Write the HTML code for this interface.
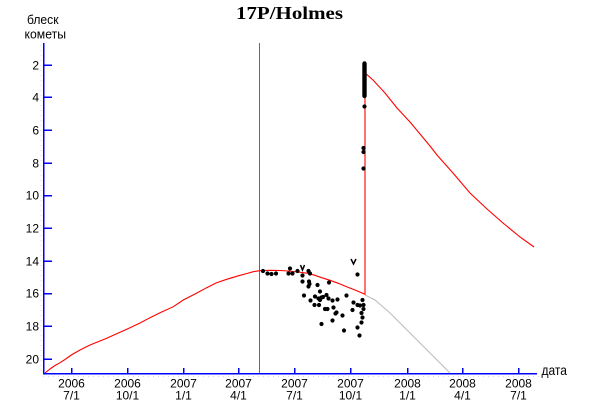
<!DOCTYPE html>
<html><head><meta charset="utf-8"><style>
html,body{margin:0;padding:0;background:#fff;}
svg{display:block;}
</style></head><body>
<svg width="600" height="410" viewBox="0 0 600 410" xmlns="http://www.w3.org/2000/svg">
<rect width="600" height="410" fill="#fff"/>
<text x="236" y="19" font-family="Liberation Serif, serif" font-weight="bold" font-size="18" textLength="107" lengthAdjust="spacingAndGlyphs">17P/Holmes</text>
<g font-family="Liberation Sans, sans-serif">
<text x="27" y="24" font-size="13" textLength="31.5" lengthAdjust="spacingAndGlyphs">блеск</text>
<text x="24.5" y="38.5" font-size="13" textLength="41.5" lengthAdjust="spacingAndGlyphs">кометы</text>
<text x="541.5" y="375" font-size="14" textLength="25.5" lengthAdjust="spacingAndGlyphs">дата</text>
</g>
<path d="M41 45V375M43 376.5H540" stroke="#d8d8e8" stroke-dasharray="1,4" fill="none"/>
<path d="M259.5 43V373" stroke="#ff00ff" stroke-width="1" shape-rendering="crispEdges"/>
<path d="M43.5 43V374M43 373.5H537M43 65h9M43 97h9M43 130h9M43 163h9M43 195.5h9M43 228h9M43 261h9M43 293.5h9M43 326h9M43 359h9M71.5 368v5M127.5 368v5M183.5 368v5M238.5 368v5M294.5 368v5M350.5 368v5M407.5 368v5M462.5 368v5M518.5 368v5" stroke="#0000ff" stroke-width="1.5" fill="none" shape-rendering="crispEdges"/>
<g font-family="Liberation Sans, sans-serif" font-size="12" text-anchor="end">
<text x="39" y="69.5">2</text><text x="39" y="101.5">4</text><text x="39" y="134.5">6</text><text x="39" y="167.5">8</text>
<text x="39" y="199.5">10</text><text x="39" y="232.5">12</text><text x="39" y="265.5">14</text><text x="39" y="297.5">16</text><text x="39" y="330.5">18</text><text x="39" y="363.5">20</text>
</g>
<g font-family="Liberation Sans, sans-serif" font-size="12" text-anchor="middle">
<text x="71.5" y="387.5">2006</text><text x="71.5" y="399.5">7/1</text>
<text x="127.5" y="387.5">2006</text><text x="127.5" y="399.5">10/1</text>
<text x="183.5" y="387.5">2007</text><text x="183.5" y="399.5">1/1</text>
<text x="238.5" y="387.5">2007</text><text x="238.5" y="399.5">4/1</text>
<text x="294.5" y="387.5">2007</text><text x="294.5" y="399.5">7/1</text>
<text x="350.5" y="387.5">2007</text><text x="350.5" y="399.5">10/1</text>
<text x="407.5" y="387.5">2008</text><text x="407.5" y="399.5">1/1</text>
<text x="462.5" y="387.5">2008</text><text x="462.5" y="399.5">4/1</text>
<text x="518.5" y="387.5">2008</text><text x="518.5" y="399.5">7/1</text>
</g>
<polyline fill="none" stroke="#bdbdbd" stroke-width="1.1" points="365,295 375,300 390,313 407,330 428,351 450,373"/>
<polyline fill="none" stroke="#ff0000" stroke-width="1.1" points="45,373 50,369 55,365.5 60,362.7 65,359.5 71.3,355 80,350 90,345 100,341 106.7,338.3 115,334.5 127.3,329 140,323 150,317.7 160,312.7 173.3,306.7 183.3,300 195,294 206.7,287.7 216,283 226.7,279.3 238.7,275.7 247,273.5 253.3,271.7 260,270.7 270,270.3 280,270.5 288,271 298,272 308,273.3 315,275.3 321.7,277.7 330,280.3 338.3,283.3 346,286.5 355,290 365,294.3 365,73 373,80 385,93 397,108 410,122 420,134 430,146 437,155 453,173 470,193 487,209 503,223 520,237 534,247"/>
<path d="M364.5 63.5V96" stroke="#000" stroke-width="4.4" stroke-linecap="round"/>
<path stroke="#000" stroke-width="4.2" stroke-linecap="round" fill="none" d="M364.5 106.5h0M363.5 148h0M363.5 152h0M363.5 168.5h0M263 271h0M267.5 273.5h0M271.5 274h0M276 273.5h0M290 268.5h0M288.5 273.5h0M292.5 273.5h0M297.5 271h0M308.5 271h0M310 273.5h0M302.5 275.5h0M302.5 281.5h0M309 281.5h0M308.5 286.5h0M309.5 284h0M317.5 285h0M320 291.5h0M329 282.5h0M304 295.5h0M310.5 300.5h0M315 296.5h0M318.5 298.5h0M320 300h0M321.5 297.5h0M323 297h0M326.5 295h0M328.5 298.5h0M332.5 300.5h0M337.5 299.5h0M346.5 295.5h0M314.5 305h0M319 305h0M325 309h0M327.5 309h0M333.5 307.5h0M336.5 312.5h0M335.5 313.5h0M342.5 315.5h0M321.5 324h0M332.5 320.5h0M344 330.5h0M352.5 310h0M353.5 302.5h0M357.5 305h0M360 305.5h0M363.5 305h0M362.5 300h0M363.5 309h0M361.5 313h0M362.5 317.5h0M361.5 322.5h0M357.5 327.5h0M359.5 335.5h0M357.5 274.5h0"/>
<path d="M300.5 265L302.5 270L304.5 265M351 259L353.5 264L356 259" stroke="#000" stroke-width="1.5" fill="none"/>
</svg>
</body></html>
